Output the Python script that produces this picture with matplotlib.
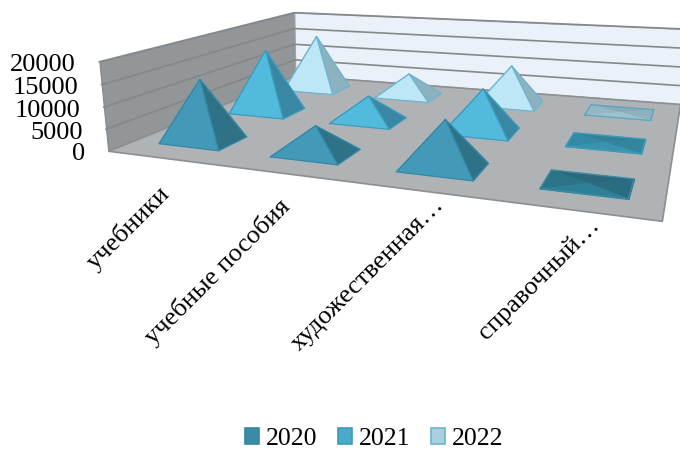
import matplotlib
matplotlib.use("Agg")
import matplotlib.pyplot as plt
from matplotlib.patches import Patch
from mpl_toolkits.mplot3d import proj3d
from mpl_toolkits.mplot3d.art3d import Poly3DCollection

plt.rcParams["font.family"] = ["Liberation Serif", "DejaVu Serif"]

categories = ["учебники", "учебные пособия", "художественная…", "справочный…"]
years = ["2020", "2021", "2022"]
values_2020 = [14400, 6200, 10200, 100]
values_2021 = [16200, 6300, 10300, 100]
values_2022 = [15500, 6300, 10400, 100]
z_ticks = [0, 5000, 10000, 15000, 20000]

series = [values_2020, values_2021, values_2022]
X_MAX, Y_MAX, Z_MAX = len(categories), len(years), z_ticks[-1]
HALF_W, HALF_D, SHIFT = 0.275, 0.2, 0.012

# faces: front, right, back, left
FACES = [["#439AB8", "#2F7287", "#3A8BA5", "#3A8BA5"],
         ["#52BBDD", "#3A87A3", "#48A8C6", "#48A8C6"],
         ["#BDE6F6", "#8CB2C2", "#A9CFE0", "#A9CFE0"]]
FLAT = [["#2F8097", "#2A6C80", "#2A687C", "#2C7589"],
        ["#3A93AD", "#33849D", "#338099", "#358AA3"],
        ["#9CC2CE", "#8DB3BF", "#86ABB8", "#93B8C4"]]
EDGES = ["#3488A6", "#3C9CBD", "#6DB5CE"]
FLAT_EDGES = ["#3A8CA5", "#3C9CBD", "#5FA5BC"]
LEGEND = ["#3A8BA5", "#4BAAC8", "#A9CFE0"]
# the truncated labels sit further along the text direction in the original
LABEL_OFFSETS = [(-5, -24), (-3, -22), (16, -4), (14, -4)]

# square 3d axes, much bigger than the figure so the camera centre lands off the chart centre
S = 763
fig = plt.figure(figsize=(6.8, 4.5), dpi=100, facecolor="white")
ax = fig.add_axes([(313 - 0.5135 * S) / 680, (233 - 0.5135 * S) / 450, S / 680, S / 450],
                  projection="3d", computed_zorder=False, proj_type="persp", focal_length=0.2)
ax.view_init(elev=20.3, azim=-65.5, roll=0.6)
ax.set_box_aspect((1, 1, 1))
ax.set_axis_off()
ax.patch.set_alpha(0)

z_order = 1


def add_poly(verts, face, edge, lw=0.8):
    global z_order
    ax.add_collection3d(Poly3DCollection(verts, facecolors=face, edgecolors=edge, linewidths=lw,
                                         zorder=z_order), autolim=False)
    z_order += 1


# walls and floor
add_poly([[(0, 0, 0), (0, Y_MAX, 0), (0, Y_MAX, Z_MAX), (0, 0, Z_MAX)]], "#939699", "#85888B")
add_poly([[(0, Y_MAX, 0), (X_MAX, Y_MAX, 0), (X_MAX, Y_MAX, Z_MAX), (0, Y_MAX, Z_MAX)]], "#EAF1F8", "#A0A3A6")
for z in z_ticks[1:]:
    ax.plot([0, 0, X_MAX], [0, Y_MAX, Y_MAX], [z, z, z], color="#85888B", lw=1.2, zorder=z_order)
z_order += 1
add_poly([[(0, 0, 0), (X_MAX, 0, 0), (X_MAX, Y_MAX, 0), (0, Y_MAX, 0)]], "#AFB3B6", "#8C8F92", lw=1.2)

# pyramids, back row first
for si in reversed(range(len(years))):
    for ci, v in enumerate(series[si]):
        xc, yc = ci + 0.5 + SHIFT, si + 0.5
        x0, x1 = xc - HALF_W, xc + HALF_W
        y0, y1 = yc - HALF_D, yc + HALF_D
        tip = (xc, yc, v)
        flat = v < 1000
        cols = FLAT[si] if flat else FACES[si]
        a, b, c, d = (x0, y0, 0), (x1, y0, 0), (x1, y1, 0), (x0, y1, 0)
        for tri, col in [((c, d, tip), cols[2]), ((d, a, tip), cols[3]),
                         ((b, c, tip), cols[1]), ((a, b, tip), cols[0])]:
            add_poly([tri], col, col if flat else EDGES[si], lw=0.9)
        if flat:
            ax.plot([x0, x1, x1, x0, x0], [y0, y0, y1, y1, y0], [0] * 5, color=FLAT_EDGES[si], lw=1.0, zorder=z_order)
            z_order += 1

ax.set_xlim(-0.242, 3.284)
ax.set_ylim(-1.129, 1.994)
ax.set_zlim(-65539, 36691)

M = ax.get_proj()


def project(x, y, z):
    px, py, _ = proj3d.proj_transform(x, y, z, M)
    return px, py


for z in z_ticks:
    ax.annotate(str(z), xy=project(0, 0, z), xytext=(-23.5, -3.5), textcoords="offset pixels",
                fontsize=19, ha="right", va="center", color="black", annotation_clip=False)
for ci, name in enumerate(categories):
    ax.annotate(name, xy=project(ci + 0.5, 0, 0), xytext=LABEL_OFFSETS[ci], textcoords="offset pixels",
                fontsize=19, rotation=45, rotation_mode="anchor", ha="right", va="top",
                color="black", annotation_clip=False)

handles = [Patch(facecolor=c, edgecolor=e, linewidth=1.2) for c, e in zip(LEGEND, EDGES)]
fig.legend(handles, years, loc="lower center", bbox_to_anchor=(0.55, -0.052), ncol=3, frameon=False,
           fontsize=18.5, handlelength=0.55, handleheight=0.55, handletextpad=0.25, columnspacing=0.82)

fig.savefig("out.png", dpi=100)
